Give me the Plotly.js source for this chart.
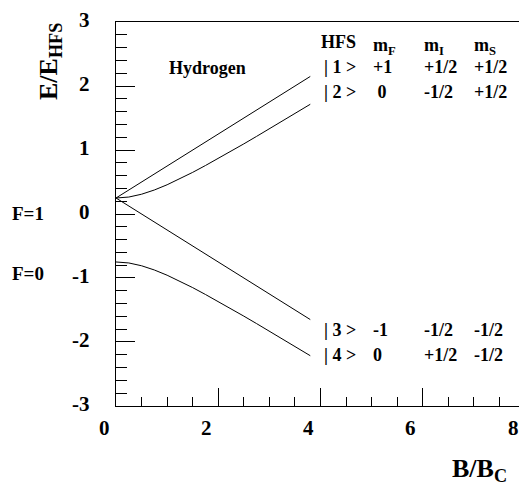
<!DOCTYPE html>
<html>
<head>
<meta charset="utf-8">
<script src="https://cdn.plot.ly/plotly-3.0.1.min.js"></script>
<style>html,body{margin:0;padding:0;background:#fff;overflow:hidden;width:519px;height:482px;}</style>
</head>
<body>
<div id="chart" style="width:525px;height:482px;"></div>
<script>
// ---- data ----
const bField = [0, 0.25, 0.5, 0.75, 1, 1.25, 1.5, 1.75, 2, 2.25, 2.5, 2.75, 3, 3.25, 3.5, 3.8];
const state1 = [0.25, 0.375, 0.5, 0.625, 0.75, 0.875, 1.0, 1.125, 1.25, 1.375, 1.5, 1.625, 1.75, 1.875, 2.0, 2.15];
const state2 = [0.25, 0.265, 0.309, 0.375, 0.457, 0.55, 0.651, 0.758, 0.868, 0.981, 1.096, 1.213, 1.331, 1.45, 1.57, 1.715];
const state3 = [0.25, 0.125, 0.0, -0.125, -0.25, -0.375, -0.5, -0.625, -0.75, -0.875, -1.0, -1.125, -1.25, -1.375, -1.5, -1.65];
const state4 = [-0.75, -0.765, -0.809, -0.875, -0.957, -1.05, -1.151, -1.258, -1.368, -1.481, -1.596, -1.713, -1.831, -1.95, -2.07, -2.215];

const xTickVals = [0, 2, 4, 6, 8];
const xTickText = ["0", "2", "4", "6", "8"];
const yTickVals = [-3, -2, -1, 0, 1, 2, 3];
const yTickText = ["-3", "-2", "-1", "0", "1", "2", "3"];

const tableHeader = ["HFS", "m<sub>F</sub>", "m<sub>I</sub>", "m<sub>S</sub>"];
const tableUpper = [["| 1 >", "+1", "+1/2", "+1/2"], ["| 2 >", " 0", "-1/2", "+1/2"]];
const tableLower = [["| 3 >", "-1", "-1/2", "-1/2"], ["| 4 >", "0", "+1/2", "-1/2"]];
const levelLabels = ["F=1", "F=0"];
const sampleLabel = "Hydrogen";
const yTitle = "E/E<sub>HFS</sub>";
const xTitle = "B/B<sub>C</sub>";

// ---- layout helpers ----
const W = 525, H = 482;
const L = 116, T = 22, B = 406, R = W;
const px = p => (p - L) / (R - L);
const py = p => (B - p) / (B - T);
const FONT = "Liberation Serif";
const f = (size) => ({family: FONT, size: size, color: "#000", weight: "bold"});

const lineStyle = {color: "#000", width: 1};
const traces = [state1, state2, state3, state4].map(s => ({
  x: bField, y: s, type: "scatter", mode: "lines", line: lineStyle,
  hoverinfo: "skip", showlegend: false
}));

const ann = [];
function addText(text, xp, yp, size, xanchor, extra) {
  ann.push(Object.assign({
    text: text, xref: "paper", yref: "paper", x: px(xp), y: py(yp),
    xanchor: xanchor || "left", yanchor: "middle", showarrow: false,
    font: f(size)
  }, extra || {}));
}
const colX = [319, 371, 422, 472];
tableHeader.forEach((t, i) => addText(t, colX[i], i === 0 ? 42 : 46, 18));
[67, 92].forEach((y, r) => tableUpper[r].forEach((t, i) => addText(t, i === 0 ? 322 : colX[i], y, 18)));
[330, 355].forEach((y, r) => tableLower[r].forEach((t, i) => addText(t, i === 0 ? 322 : colX[i], y, 18)));
addText(levelLabels[0], 28, 213, 19, "center");
addText(levelLabels[1], 28, 273, 19, "center");
addText(sampleLabel, 207, 68, 18, "center");
addText(yTitle, 50, 62, 26, "center", {textangle: -90});
addText(xTitle, 450, 470, 26, "left");

// tick labels placed on the axes' own scales (x shifted left as in the reference)
xTickVals.forEach((v, i) => ann.push({
  text: xTickText[i], xref: "x", x: v, yref: "paper", y: py(428),
  xanchor: "center", yanchor: "middle", xshift: -12, showarrow: false, font: f(21)
}));
yTickVals.forEach((v, i) => ann.push({
  text: yTickText[i], xref: "paper", x: px(92), yref: "y", y: v,
  xanchor: "right", yanchor: "middle", yshift: 2, showarrow: false, font: f(21)
}));

const layout = {
  width: W, height: H,
  font: f(20),
  margin: {l: L, r: 0, t: T, b: H - B, pad: 0},
  paper_bgcolor: "#fff", plot_bgcolor: "#fff",
  showlegend: false,
  xaxis: {
    range: [0, 8.0], tickmode: "array", tickvals: xTickVals, showticklabels: false,
    showline: true, linecolor: "#000", linewidth: 1, mirror: true,
    ticks: "inside", ticklen: 18, tickcolor: "#000", tickwidth: 1,
    showgrid: false, zeroline: false,
    minor: {dtick: 0.5, tick0: 0, ticks: "inside", ticklen: 9, tickcolor: "#000", tickwidth: 1, showgrid: false}
  },
  yaxis: {
    range: [-3.001, 3.001], tickmode: "array", tickvals: yTickVals, showticklabels: false,
    showline: true, linecolor: "#000", linewidth: 1, mirror: false,
    ticks: "inside", ticklen: 19, tickcolor: "#000", tickwidth: 1,
    showgrid: false, zeroline: false,
    minor: {dtick: 0.2, tick0: 0, ticks: "inside", ticklen: 11, tickcolor: "#000", tickwidth: 1, showgrid: false}
  },
  annotations: ann
};

Plotly.newPlot("chart", traces, layout, {staticPlot: true, displayModeBar: false});
</script>
</body>
</html>
